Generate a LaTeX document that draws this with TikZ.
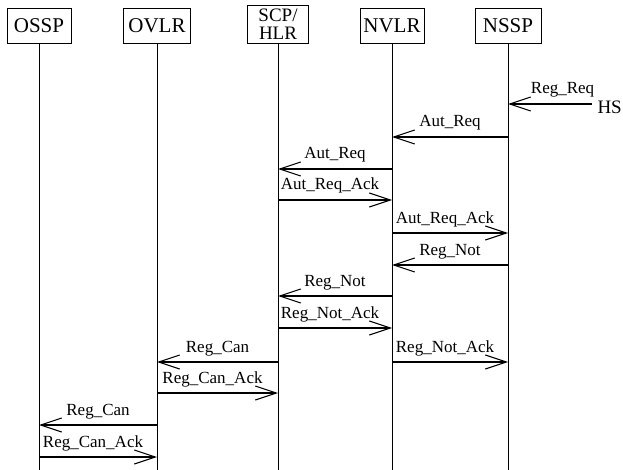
\documentclass[tikz,border=0pt]{standalone}
\usepackage{fontspec}
\setmainfont{Liberation Serif}
\usetikzlibrary{arrows.meta}

\begin{document}
\begin{tikzpicture}[x=1pt,y=-1pt,
  every node/.style={font=\fontsize{17}{19}\selectfont},
  ent/.style={draw,line width=0.8pt,minimum height=35pt,inner sep=2pt,
              font=\fontsize{21}{23}\selectfont},
  life/.style={line width=0.7pt},
  msg/.style={line width=1.1pt,
              -{Straight Barb[length=21pt,width=14pt,line width=1.1pt]}},
  lbll/.style={anchor=base,yshift=10pt,inner sep=0pt},
  lblr/.style={lbll,xshift=-5pt}
]
\useasboundingbox (0,0) rectangle (623,470);

% entities
\node[ent,minimum width=64pt] (ossp) at ( 39,25.5) {OSSP};
\node[ent,minimum width=67pt] (ovlr) at (157,25.5) {OVLR};
\node[ent,minimum width=61pt,minimum height=38pt,align=center,
      font=\fontsize{19}{19}\selectfont] (scp) at (278,24) {SCP/\\[-1pt]HLR};
\node[ent,minimum width=64pt] (nvlr) at (392,25.5) {NVLR};
\node[ent,minimum width=66pt] (nssp) at (508,25.5) {NSSP};

% lifelines
\foreach \n in {ossp,ovlr,scp,nvlr,nssp}
  \draw[life] (\n.south) -- (\n |- 0,470);

% incoming request
\coordinate (hs) at (592,104);
\node[anchor=east,inner sep=0pt,font=\fontsize{19}{21}\selectfont] (hslbl) at (622,107) {HS};
\draw[msg] (hs) -- node[lbll,pos=0.35]{Reg\_Req} (nssp |- 0,104);

% messages
\foreach \a/\b/\y/\t/\s in {
    nssp/nvlr/137/Aut\_Req/lbll,
    nvlr/scp/169/Aut\_Req/lbll,
    scp/nvlr/200/Aut\_Req\_Ack/lblr,
    nvlr/nssp/233/Aut\_Req\_Ack/lblr,
    nssp/nvlr/265/Reg\_Not/lbll,
    nvlr/scp/296/Reg\_Not/lbll,
    scp/nvlr/328/Reg\_Not\_Ack/lblr,
    nvlr/nssp/362/Reg\_Not\_Ack/lblr,
    scp/ovlr/362/Reg\_Can/lbll,
    ovlr/scp/393/Reg\_Can\_Ack/lblr,
    ovlr/ossp/425/Reg\_Can/lbll,
    ossp/ovlr/457/Reg\_Can\_Ack/lblr}
  \draw[msg] (\a |- 0,\y) -- node[\s]{\t} (\b |- 0,\y);
\end{tikzpicture}
\end{document}
